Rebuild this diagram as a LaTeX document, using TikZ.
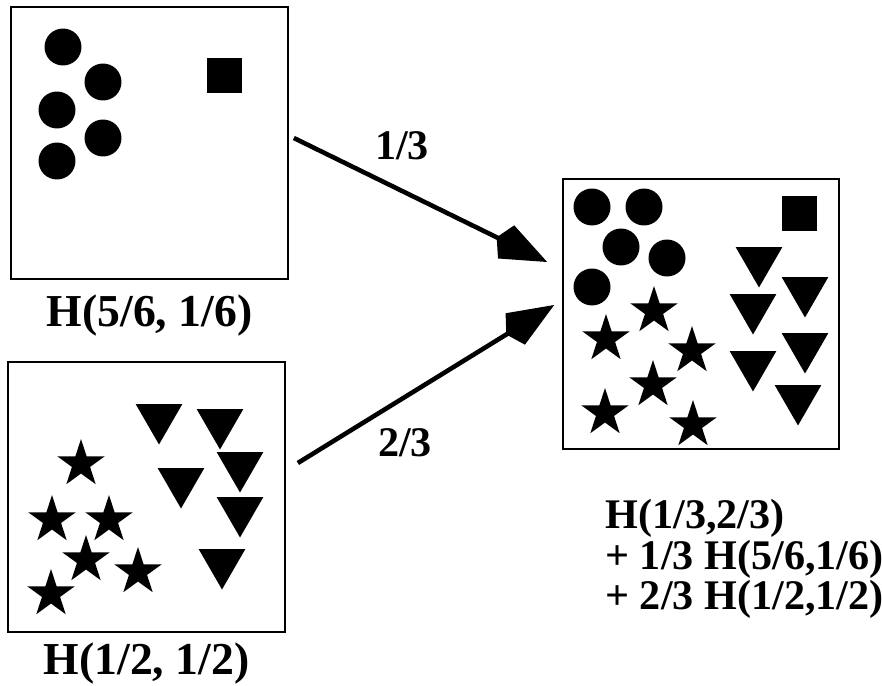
\documentclass[tikz,border=0pt]{standalone}
\usepackage{fontspec}
\setmainfont{Liberation Serif}
\usetikzlibrary{positioning,shapes.geometric,arrows.meta,calc}

\begin{document}
\begin{tikzpicture}[
    x=0.02cm, y=-0.02cm,
    panel/.style={rectangle, draw, line width=1pt, inner sep=0pt},
    dot/.style={circle, fill=black, minimum size=0.74cm, inner sep=0pt},
    block/.style={rectangle, fill=black, minimum size=0.7cm, inner sep=0pt},
    starry/.style={star, star points=5, star point ratio=2.618, fill=black, minimum size=1.0cm, inner sep=0pt},
    tri/.style={regular polygon, regular polygon sides=3, shape border rotate=180, fill=black, minimum size=1.08cm, inner sep=0pt},
    lbl/.style={font=\fontsize{24}{23}\selectfont\bfseries, inner sep=0pt},
    caption/.style={font=\fontsize{26}{26}\selectfont\bfseries, inner sep=0pt},
    arrow/.style={-{Kite[length=32pt, width=21pt, inset=6pt]}, line width=2.6pt}
]
\useasboundingbox (0,0) rectangle (882,686);

% The three panels
\node[panel, minimum width=5.54cm, minimum height=5.44cm] (boxA) at (149.5,143) {};
\node[panel, minimum width=5.54cm, minimum height=5.40cm] (boxB) at (146.5,497) {};
\node[panel, minimum width=5.52cm, minimum height=5.40cm] (boxMix) at (701,314) {};

% Panel A: five circles and one square
\node[dot] (a1) at (63,47) {};
\node[dot] (a2) at (103,82) {};
\node[dot] (a3) at (57,110) {};
\node[dot] (a4) at (103,138) {};
\node[dot] (a5) at (57,161) {};
\node[block] (a6) at (224.5,75.5) {};

% Panel B: six stars and six triangles
\node[starry] (b1) at (81,464) {};
\node[starry] (b2) at (52,520) {};
\node[starry] (b3) at (109,520) {};
\node[starry] (b4) at (86,560) {};
\node[starry] (b5) at (138,572) {};
\node[starry] (b6) at (51,594) {};

\node[tri] (b7) at (159,417.5) {};
\node[tri] (b8) at (220,422.5) {};
\node[tri] (b9) at (240,465.5) {};
\node[tri] (b10) at (181,481.5) {};
\node[tri] (b11) at (240,510.5) {};
\node[tri] (b12) at (222,562.5) {};

% Mixed panel
\node[dot] (m1) at (592,207) {};
\node[dot] (m2) at (644,207) {};
\node[dot] (m3) at (621,247) {};
\node[dot] (m4) at (667,258) {};
\node[dot] (m5) at (592,287) {};
\node[block] (m6) at (799.5,213.5) {};

\node[starry] (m7) at (654,311) {};
\node[starry] (m8) at (606,339) {};
\node[starry] (m9) at (692,351) {};
\node[starry] (m10) at (653,385) {};
\node[starry] (m11) at (605,413) {};
\node[starry] (m12) at (693,425) {};

\node[tri] (m13) at (759,260.5) {};
\node[tri] (m14) at (805,290.5) {};
\node[tri] (m15) at (753,307.5) {};
\node[tri] (m16) at (805,346.5) {};
\node[tri] (m17) at (753,364.5) {};
\node[tri] (m18) at (798,398.5) {};

% Labels
\node[caption, below=0.3cm of boxA] (lblA) {H(5/6, 1/6)};
\node[caption, below=0.2cm of boxB] (lblB) {H(1/2, 1/2)};
\node[lbl, align=left, anchor=north west] (lblMix) at (605,499)
    {H(1/3,2/3)\\+ 1/3 H(5/6,1/6)\\+ 2/3 H(1/2,1/2)};

% Arrows with weights
\coordinate (tailA) at ($(boxA.east)+(5,-5)$);
\coordinate (tipA) at ($(boxMix.west)+(-15,-52)$);
\coordinate (tailB) at ($(boxB.east)+(12,-34)$);
\coordinate (tipB) at ($(boxMix.west)+(-8,-9)$);
\draw[arrow] (tailA) -- (tipA);
\draw[arrow] (tailB) -- (tipB);
\node[lbl] (wA) at (402,146) {1/3};
\node[lbl] (wB) at (405,443) {2/3};

\end{tikzpicture}
\end{document}
